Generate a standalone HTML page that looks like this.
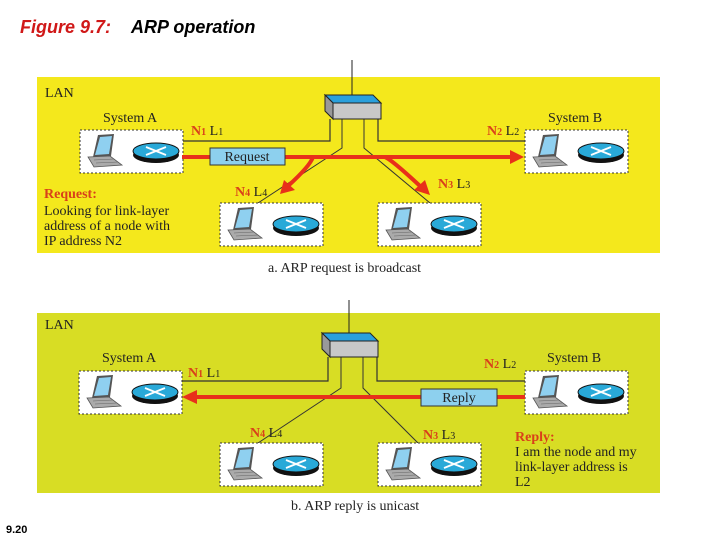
<!DOCTYPE html>
<html><head><meta charset="utf-8"><style>
html,body{margin:0;padding:0;background:#fff;width:720px;height:540px;overflow:hidden}
svg{display:block}
.s{font-family:"Liberation Serif",serif;font-size:14px;fill:#222}
.r{fill:#d9401a;font-weight:bold}
</style></head><body>
<svg width="720" height="540" viewBox="0 0 720 540" xmlns="http://www.w3.org/2000/svg">
<defs>
<g id="h">
<rect x="0" y="0" width="103" height="43" fill="#fff" stroke="#333" stroke-width="1" stroke-dasharray="2,2"/>
<polygon points="18,5 34,4 31,26 13,27" fill="#555"/>
<polygon points="20,7 32,6 29,24 15,25" fill="#8fd0f0"/>
<polygon points="8,27 30,26 42,35 14,37" fill="#aaa" stroke="#555" stroke-width="0.8"/>
<path d="M14 30 L34 29 M16 33 L38 32" stroke="#666" stroke-width="0.6"/>
<ellipse cx="76" cy="25" rx="23" ry="8" fill="#111"/>
<ellipse cx="76" cy="21" rx="23" ry="8" fill="#29a9d8" stroke="#111" stroke-width="1"/>
<path d="M66 17 L86 25 M66 25 L86 17" stroke="#fff" stroke-width="1.8"/>
</g>
<g id="sw">
<polygon points="0,0 48,0 56,8 8,8" fill="#2aa0dc" stroke="#222"/>
<polygon points="0,0 8,8 8,24 0,16" fill="#999" stroke="#222"/>
<rect x="8" y="8" width="48" height="16" fill="#c8c8c8" stroke="#222"/>
</g>
</defs>
<text x="20" y="33" font-family="Liberation Sans,sans-serif" font-size="18" font-weight="bold" font-style="italic" fill="#d01818">Figure 9.7:</text>
<text x="131" y="33" font-family="Liberation Sans,sans-serif" font-size="18" font-weight="bold" font-style="italic" fill="#000">ARP operation</text>

<!-- panel a -->
<rect x="37" y="77" width="623" height="176" fill="#f4e81c"/>
<line x1="352" y1="60" x2="352" y2="95" stroke="#222"/>
<path d="M330 119 V141 H182 M378 119 V141 H525" fill="none" stroke="#333" stroke-width="1.2"/>
<path d="M342 119 V148 L258 203 M364 119 V148 L430 203" fill="none" stroke="#333" stroke-width="1"/>
<use href="#sw" x="325" y="95"/>
<use href="#h" x="80" y="130"/>
<use href="#h" x="525" y="130"/>
<use href="#h" x="220" y="203"/>
<use href="#h" x="378" y="203"/>
<line x1="182" y1="157" x2="512" y2="157" stroke="#e8301a" stroke-width="4"/>
<polygon points="524,157 510,150 510,164" fill="#e8301a"/>
<path d="M313 157 Q310 166 288 186" fill="none" stroke="#e8301a" stroke-width="4"/>
<polygon points="280,194 284,180 295,190" fill="#e8301a"/>
<path d="M385 157 Q392 160 420 186" fill="none" stroke="#e8301a" stroke-width="4"/>
<polygon points="430,195 414,190 425,180" fill="#e8301a"/>
<rect x="210" y="148" width="75" height="17" fill="#8dd0ee" stroke="#333"/>
<text class="s" x="247" y="161" text-anchor="middle">Request</text>
<text class="s" x="45" y="97" font-size="15">LAN</text>
<text class="s" x="103" y="122">System A</text>
<text class="s" x="548" y="122">System B</text>
<text class="s" x="191" y="135"><tspan class="r">N</tspan><tspan class="r" font-size="10">1</tspan> L<tspan font-size="10">1</tspan></text>
<text class="s" x="487" y="135"><tspan class="r">N</tspan><tspan class="r" font-size="10">2</tspan> L<tspan font-size="10">2</tspan></text>
<text class="s" x="235" y="196"><tspan class="r">N</tspan><tspan class="r" font-size="10">4</tspan> L<tspan font-size="10">4</tspan></text>
<text class="s" x="438" y="188"><tspan class="r">N</tspan><tspan class="r" font-size="10">3</tspan> L<tspan font-size="10">3</tspan></text>
<text class="s r" x="44" y="198">Request:</text>
<text class="s" x="44" y="215">Looking for link-layer</text>
<text class="s" x="44" y="230">address of a node with</text>
<text class="s" x="44" y="245">IP address N2</text>
<text class="s" x="268" y="272" font-size="13">a. ARP request is broadcast</text>

<!-- panel b -->
<rect x="37" y="313" width="623" height="180" fill="#d8dd24"/>
<line x1="349" y1="300" x2="349" y2="333" stroke="#222"/>
<path d="M328 357 V381 H182 M377 357 V381 H525" fill="none" stroke="#333" stroke-width="1.2"/>
<path d="M341 357 V388 L258 443 M363 357 V388 L418 443" fill="none" stroke="#333" stroke-width="1"/>
<use href="#sw" x="322" y="333"/>
<use href="#h" x="79" y="371"/>
<use href="#h" x="525" y="371"/>
<use href="#h" x="220" y="443"/>
<use href="#h" x="378" y="443"/>
<line x1="196" y1="397" x2="525" y2="397" stroke="#e8301a" stroke-width="4"/>
<polygon points="182,397 197,390 197,404" fill="#e8301a"/>
<rect x="421" y="389" width="76" height="17" fill="#8dd0ee" stroke="#333"/>
<text class="s" x="459" y="402" text-anchor="middle">Reply</text>
<text class="s" x="45" y="329" font-size="15">LAN</text>
<text class="s" x="102" y="362">System A</text>
<text class="s" x="547" y="362">System B</text>
<text class="s" x="188" y="377"><tspan class="r">N</tspan><tspan class="r" font-size="10">1</tspan> L<tspan font-size="10">1</tspan></text>
<text class="s" x="484" y="368"><tspan class="r">N</tspan><tspan class="r" font-size="10">2</tspan> L<tspan font-size="10">2</tspan></text>
<text class="s" x="250" y="437"><tspan class="r">N</tspan><tspan class="r" font-size="10">4</tspan> L<tspan font-size="10">4</tspan></text>
<text class="s" x="423" y="439"><tspan class="r">N</tspan><tspan class="r" font-size="10">3</tspan> L<tspan font-size="10">3</tspan></text>
<text class="s r" x="515" y="441">Reply:</text>
<text class="s" x="515" y="456">I am the node and my</text>
<text class="s" x="515" y="471">link-layer address is</text>
<text class="s" x="515" y="486">L2</text>
<text class="s" x="291" y="510" font-size="13">b. ARP reply is unicast</text>
<text x="6" y="533" font-family="Liberation Sans,sans-serif" font-size="11" font-weight="bold" fill="#000">9.20</text>
</svg>
</body></html>
